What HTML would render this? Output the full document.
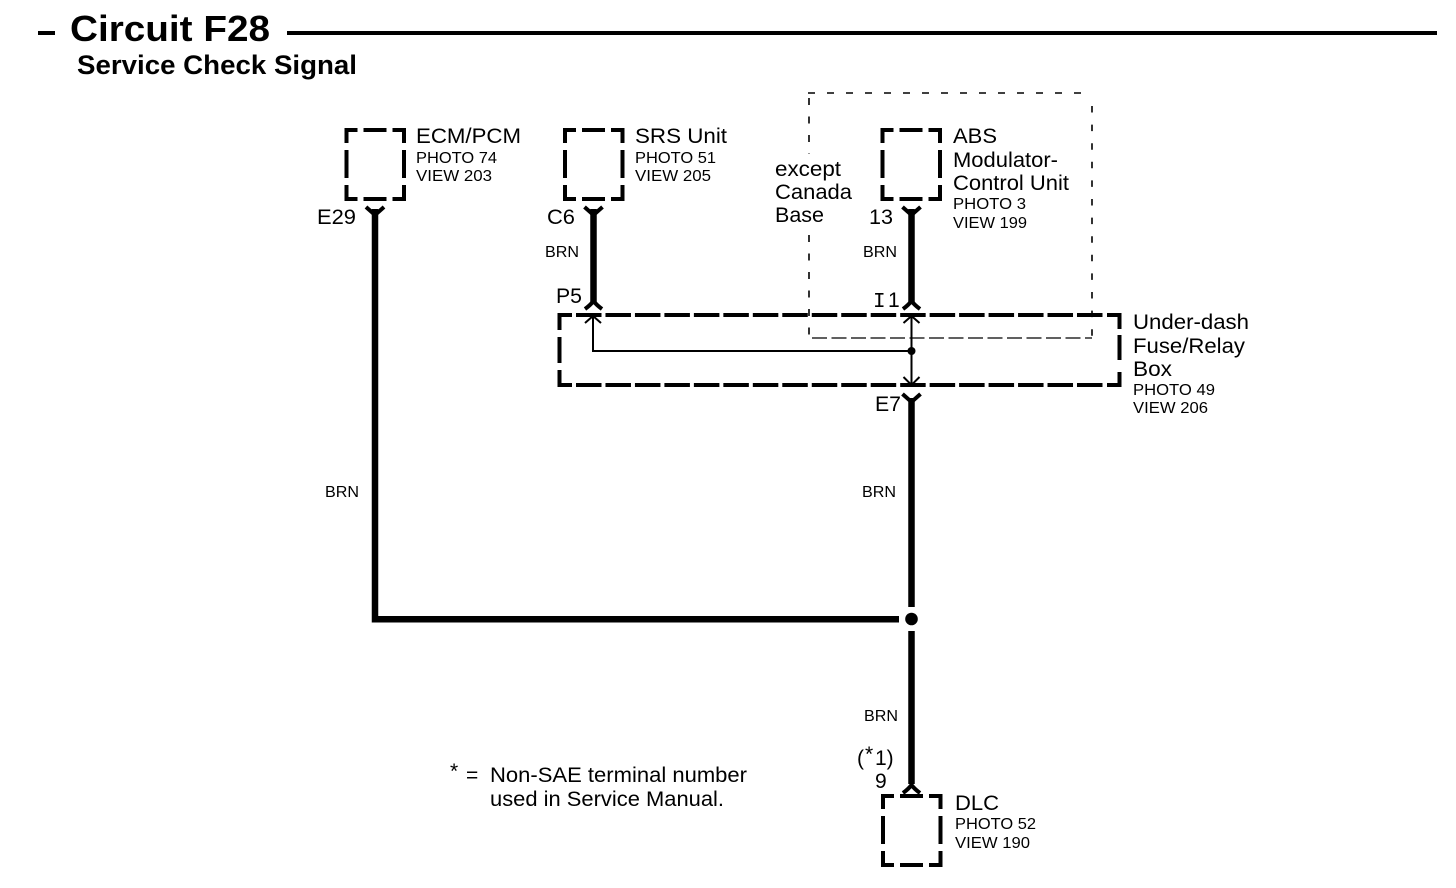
<!DOCTYPE html>
<html><head><meta charset="utf-8"><style>
html,body{margin:0;padding:0;background:#fff;width:1456px;height:888px;overflow:hidden}
svg{display:block}
text{font-family:"Liberation Sans",sans-serif;fill:#000}
.n{font-size:21px}.s{font-size:16px}.b{font-size:16px}
</style></head><body>
<svg width="1456" height="888" viewBox="0 0 1456 888" xmlns="http://www.w3.org/2000/svg">
<defs>
<g id="box" fill="none" stroke="#000" stroke-width="4">
<path d="M0 13V0H11M17 0H40M46 0H57.5V13M0 20V48M57.5 20V48M0 55V69H11M17 69H40M46 69H57.5V55"/>
</g>
<path id="fk" d="M-9 -9L0 -1L9 -9" fill="none" stroke="#000" stroke-width="4"/>
<path id="ml" d="M-8.5 1Q-3 -3 0 -7Q3 -3 8.5 1" fill="none" stroke="#000" stroke-width="4"/>
</defs>
<rect x="38" y="31" width="17" height="4"/>
<rect x="287" y="31" width="1150" height="4"/>
<text x="70" y="41" font-size="36" font-weight="bold" textLength="200" lengthAdjust="spacingAndGlyphs">Circuit F28</text>
<text x="77" y="74" font-size="27" font-weight="bold" textLength="280" lengthAdjust="spacingAndGlyphs">Service Check Signal</text>

<g fill="none" stroke="#000" stroke-width="1.6">
<path d="M809 98V154M809 235V338" stroke-dasharray="7 11.5"/>
<path d="M808 93H1092" stroke-dasharray="7 12"/>
<path d="M1092 106V338" stroke-dasharray="6.5 12.1"/>
<path d="M812 338H1092" stroke-dasharray="15 4.5" stroke-width="1.2"/>
</g>

<use href="#box" x="346.5" y="130"/>
<use href="#box" x="565" y="130"/>
<use href="#box" x="882.5" y="130"/>
<use href="#box" x="883" y="796"/>

<g fill="none" stroke="#000" stroke-width="4">
<path d="M559.5 330V315H572M559.5 337V363M559.5 370V385H572"/>
<path d="M576 315H1104" stroke-dasharray="25.5 3.97"/>
<path d="M576 385H1104" stroke-dasharray="25.5 3.97"/>
<path d="M1107 315H1119.5V329M1119.5 335V360M1119.5 372V385H1107"/>
</g>

<g fill="none" stroke="#000" stroke-width="6.5">
<path d="M375 209V619.3H899"/>
<path d="M593.5 209V303"/>
<path d="M911.5 209V303"/>
<path d="M911.5 398V607"/>
<path d="M911.5 631V784"/>
</g>
<circle cx="911.5" cy="619" r="6.3"/>

<use href="#fk" x="375" y="216"/>
<use href="#fk" x="593.5" y="216"/>
<use href="#fk" x="911.5" y="216"/>
<use href="#fk" x="911.5" y="403"/>
<use href="#ml" x="593.5" y="308"/>
<use href="#ml" x="911.5" y="308"/>
<use href="#ml" x="911.5" y="792"/>

<g fill="none" stroke="#000" stroke-width="2">
<path d="M593 316V351H911.5"/>
<path d="M911.5 316V384"/>
<path d="M585 323L593 316L601 323"/>
<path d="M903.5 323L911.5 316L919.5 323"/>
<path d="M903.5 377L911.5 385L919.5 377"/>
</g>
<circle cx="911.5" cy="351" r="4"/>

<text class="n" x="416" y="143" textLength="105" lengthAdjust="spacingAndGlyphs">ECM/PCM</text>
<text class="s" x="416" y="163" textLength="81" lengthAdjust="spacingAndGlyphs">PHOTO 74</text>
<text class="s" x="416" y="181" textLength="76" lengthAdjust="spacingAndGlyphs">VIEW 203</text>
<text class="n" x="635" y="143" textLength="92" lengthAdjust="spacingAndGlyphs">SRS Unit</text>
<text class="s" x="635" y="163" textLength="81" lengthAdjust="spacingAndGlyphs">PHOTO 51</text>
<text class="s" x="635" y="181" textLength="76" lengthAdjust="spacingAndGlyphs">VIEW 205</text>
<text class="n" x="953" y="143" textLength="44" lengthAdjust="spacingAndGlyphs">ABS</text>
<text class="n" x="953" y="167" textLength="105" lengthAdjust="spacingAndGlyphs">Modulator-</text>
<text class="n" x="953" y="190" textLength="116" lengthAdjust="spacingAndGlyphs">Control Unit</text>
<text class="s" x="953" y="209" textLength="73" lengthAdjust="spacingAndGlyphs">PHOTO 3</text>
<text class="s" x="953" y="228" textLength="74" lengthAdjust="spacingAndGlyphs">VIEW 199</text>
<text class="n" x="775" y="176" textLength="66" lengthAdjust="spacingAndGlyphs">except</text>
<text class="n" x="775" y="199" textLength="77" lengthAdjust="spacingAndGlyphs">Canada</text>
<text class="n" x="775" y="222" textLength="49" lengthAdjust="spacingAndGlyphs">Base</text>
<text class="n" x="317" y="224" textLength="39" lengthAdjust="spacingAndGlyphs">E29</text>
<text class="n" x="547" y="224" textLength="28" lengthAdjust="spacingAndGlyphs">C6</text>
<text class="n" x="869" y="224" textLength="24" lengthAdjust="spacingAndGlyphs">13</text>
<text class="b" x="545" y="257" textLength="34" lengthAdjust="spacingAndGlyphs">BRN</text>
<text class="b" x="863" y="257" textLength="34" lengthAdjust="spacingAndGlyphs">BRN</text>
<text class="n" x="556" y="303" textLength="26" lengthAdjust="spacingAndGlyphs">P5</text>
<text class="n" x="873" y="307" style="font-family:'Liberation Mono',monospace">I</text>
<text class="n" x="888" y="307">1</text>
<text class="n" x="1133" y="329" textLength="116" lengthAdjust="spacingAndGlyphs">Under-dash</text>
<text class="n" x="1133" y="353" textLength="112" lengthAdjust="spacingAndGlyphs">Fuse/Relay</text>
<text class="n" x="1133" y="376" textLength="39" lengthAdjust="spacingAndGlyphs">Box</text>
<text class="s" x="1133" y="395" textLength="82" lengthAdjust="spacingAndGlyphs">PHOTO 49</text>
<text class="s" x="1133" y="413" textLength="75" lengthAdjust="spacingAndGlyphs">VIEW 206</text>
<text class="n" x="875" y="411" textLength="26" lengthAdjust="spacingAndGlyphs">E7</text>
<text class="b" x="325" y="497" textLength="34" lengthAdjust="spacingAndGlyphs">BRN</text>
<text class="b" x="862" y="497" textLength="34" lengthAdjust="spacingAndGlyphs">BRN</text>
<text class="b" x="864" y="721" textLength="34" lengthAdjust="spacingAndGlyphs">BRN</text>
<text class="n" x="857" y="765">(</text>
<text class="n" x="865" y="761">*</text>
<text class="n" x="875" y="765">1)</text>
<text class="n" x="875" y="788">9</text>
<text class="n" x="955" y="810" textLength="44" lengthAdjust="spacingAndGlyphs">DLC</text>
<text class="s" x="955" y="829" textLength="81" lengthAdjust="spacingAndGlyphs">PHOTO 52</text>
<text class="s" x="955" y="848" textLength="75" lengthAdjust="spacingAndGlyphs">VIEW 190</text>
<text class="n" x="450" y="778">*</text>
<text class="n" x="466" y="782">=</text>
<text class="n" x="490" y="782" textLength="257" lengthAdjust="spacingAndGlyphs">Non-SAE terminal number</text>
<text class="n" x="490" y="806" textLength="234" lengthAdjust="spacingAndGlyphs">used in Service Manual.</text>
</svg>
</body></html>
